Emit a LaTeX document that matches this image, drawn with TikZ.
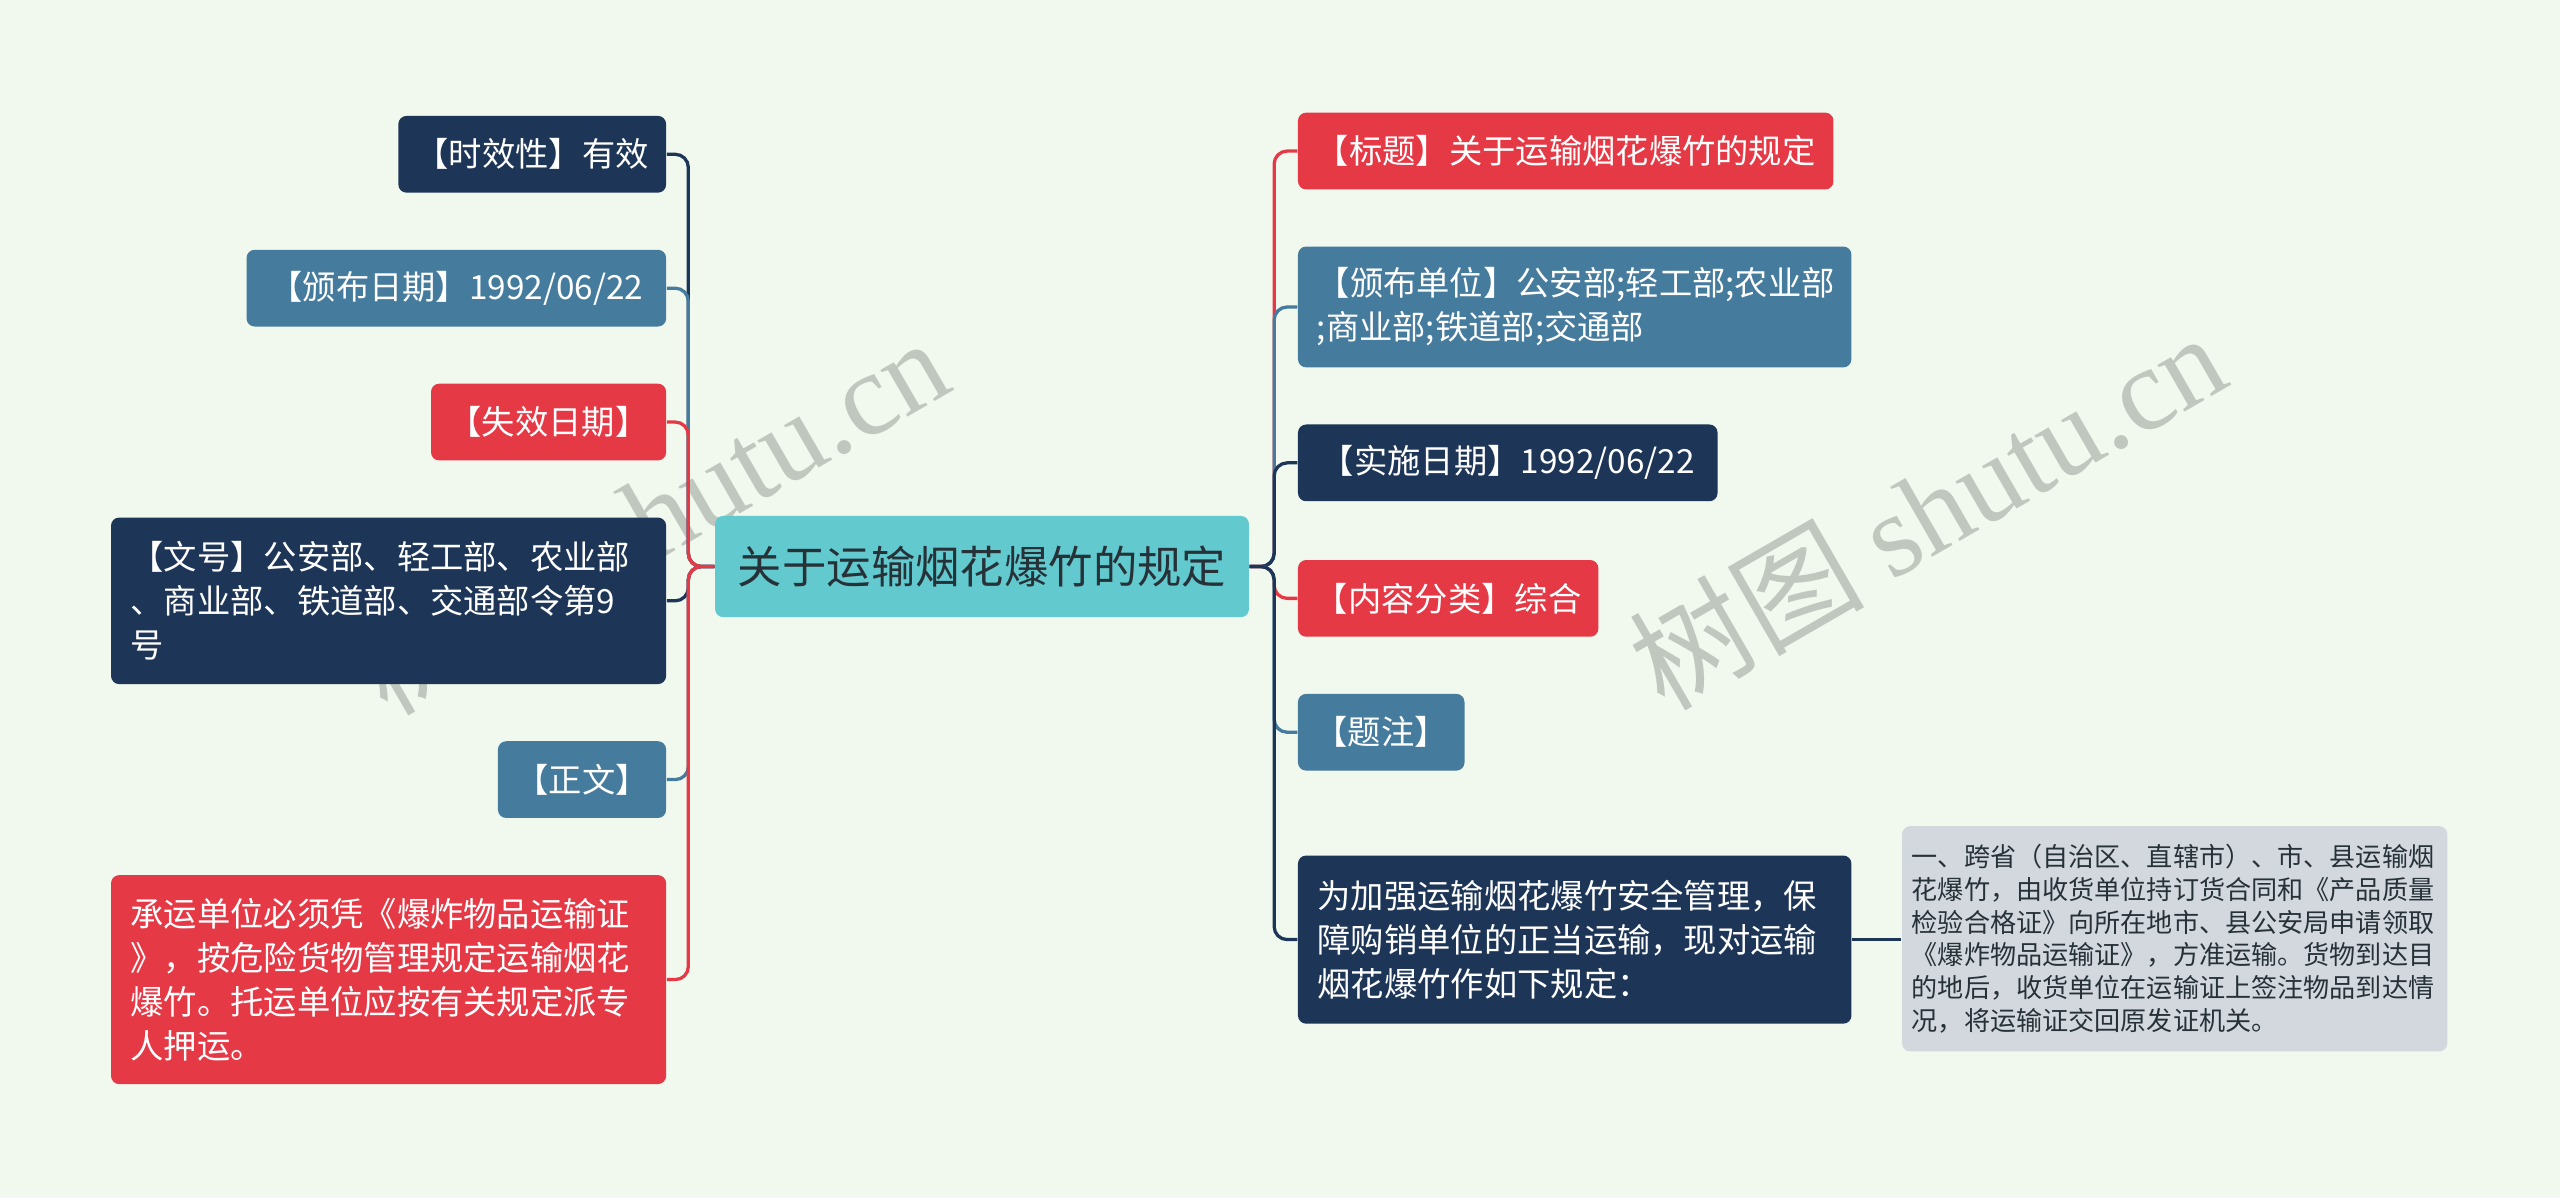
\documentclass[tikz,border=0pt]{standalone}
\usepackage{fontspec}
\setmainfont{Noto Sans CJK SC}
\newfontfamily\wmlatin{Liberation Serif}
\definecolor{bgc}{HTML}{F1F9EF}
\definecolor{navyc}{HTML}{1D3557}
\definecolor{bluec}{HTML}{457B9D}
\definecolor{redc}{HTML}{E63946}
\definecolor{tealc}{HTML}{62C9CE}
\definecolor{grayc}{HTML}{D3D8DE}
\definecolor{wmc}{HTML}{C0C7BF}
\definecolor{darktext}{HTML}{263238}
\tikzset{
 box/.style={rounded corners=2.5pt, inner sep=0pt, text=white, font=\fontsize{10.2}{13.5}\selectfont, align=center},
 mbox/.style={box, align=left, text width=#1},
 conn/.style={line width=1pt, rounded corners=4pt},
 wm/.style={text=wmc, rotate=30, inner sep=0pt, font=\fontsize{36}{36}\selectfont},
}
\begin{document}
\begin{tikzpicture}[x=0.5pt,y=-0.5pt]
\fill[bgc] (0,0) rectangle (1568,734);
\useasboundingbox (0,0) rectangle (1568,734);

% watermarks
\node[wm] (wmA) at (1180,312) {树图 {\wmlatin shutu.cn}};
\node[wm] (wmB) at (398,315) {树图 {\wmlatin shutu.cn}};

% center
\node[box, fill=tealc, text=darktext, minimum width=163.5pt, minimum height=31pt, font=\fontsize{13.6}{16}\selectfont] (c) at (601.5,347) {关于运输烟花爆竹的规定};

% left nodes
\node[box, fill=navyc, minimum width=82pt, minimum height=23.5pt] (t1) at (326,94.5) {【时效性】有效};
\node[box, fill=bluec, minimum width=128.5pt, minimum height=23.5pt] (t2) at (279.5,176.5) {【颁布日期】1992/06/22};
\node[box, fill=redc, minimum width=72pt, minimum height=23.5pt] (t3) at (336,258.5) {【失效日期】};
\node[mbox=158pt, fill=navyc, minimum width=170pt, minimum height=51pt] (t4) at (238,368) {【文号】公安部、轻工部、农业部\\、商业部、铁道部、交通部令第9\\号};
\node[box, fill=bluec, minimum width=51.5pt, minimum height=23.5pt] (t5) at (356.5,477.5) {【正文】};
\node[mbox=158pt, fill=redc, minimum width=170pt, minimum height=64pt] (t6) at (238,600) {承运单位必须凭《爆炸物品运输证\\》，按危险货物管理规定运输烟花\\爆竹。托运单位应按有关规定派专\\人押运。};

% right nodes
\node[box, fill=redc, minimum width=164pt, minimum height=23.5pt] (r1) at (959,92.5) {【标题】关于运输烟花爆竹的规定};
\node[mbox=158pt, fill=bluec, minimum width=169.5pt, minimum height=37pt] (r2) at (964.5,188) {【颁布单位】公安部;轻工部;农业部\\;商业部;铁道部;交通部};
\node[box, fill=navyc, minimum width=128.5pt, minimum height=23.5pt] (r3) at (923.5,283.5) {【实施日期】1992/06/22};
\node[box, fill=redc, minimum width=92pt, minimum height=23.5pt] (r4) at (887,366.5) {【内容分类】综合};
\node[box, fill=bluec, minimum width=51pt, minimum height=23.5pt] (r5) at (846,448.5) {【题注】};
\node[mbox=157.5pt, fill=navyc, minimum width=169.5pt, minimum height=51.5pt] (r6) at (964.5,575.5) {为加强运输烟花爆竹安全管理，保\\障购销单位的正当运输，现对运输\\烟花爆竹作如下规定：};
\node[mbox=161pt, fill=grayc, text=darktext, minimum width=167pt, minimum height=69pt, font=\fontsize{8}{10}\selectfont] (g1) at (1332,575) {一、跨省（自治区、直辖市）、市、县运输烟\\花爆竹，由收货单位持订货合同和《产品质量\\检验合格证》向所在地市、县公安局申请领取\\《爆炸物品运输证》，方准运输。货物到达目\\的地后，收货单位在运输证上签注物品到达情\\况，将运输证交回原发证机关。};

% left connectors
\draw[conn, navyc] (c.west) -- ++(-16,0) |- (t1.east);
\draw[conn, bluec] (c.west) -- ++(-16,0) |- (t2.east);
\draw[conn, redc] (c.west) -- ++(-16,0) |- (t3.east);
\draw[conn, navyc] (c.west) -- ++(-16,0) |- (t4.east);
\draw[conn, bluec] (c.west) -- ++(-16,0) |- (t5.east);
\draw[conn, redc] (c.west) -- ++(-16,0) |- (t6.east);

% right connectors
\draw[conn, redc] (c.east) -- ++(15,0) |- (r1.west);
\draw[conn, bluec] (c.east) -- ++(15,0) |- (r2.west);
\draw[conn, navyc] (c.east) -- ++(15,0) |- (r3.west);
\draw[conn, redc] (c.east) -- ++(15,0) |- (r4.west);
\draw[conn, bluec] (c.east) -- ++(15,0) |- (r5.west);
\draw[conn, navyc] (c.east) -- ++(15,0) |- (r6.west);

\draw[line width=1pt, navyc] (r6.east) -- (r6.east -| g1.west);
\end{tikzpicture}
\end{document}
